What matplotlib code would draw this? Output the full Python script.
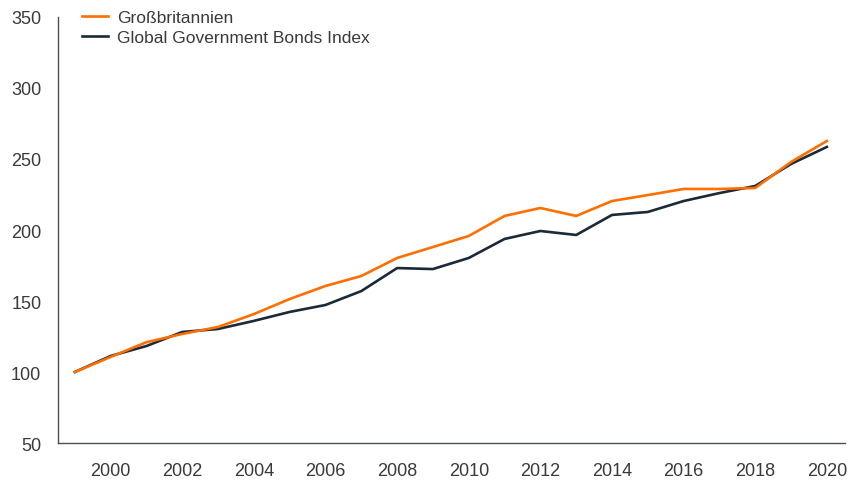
import matplotlib
matplotlib.use('Agg')
import matplotlib.pyplot as plt

# 数据
years = list(range(1999, 2021))
gb = [100, 110.6, 121, 126.8, 131.7, 140.8, 151.4, 160.6, 167.6, 180.3, 188,
      195.8, 209.9, 215.5, 209.9, 220.4, 224.6, 228.9, 228.9, 229.6, 247.9, 262.7]
global_idx = [100, 111.3, 118.3, 128.2, 130.3, 136, 142.3, 147.2, 157, 173.2, 172.5,
              180.3, 193.7, 199.3, 196.5, 210.6, 212.7, 220.4, 226, 231, 246.5, 258.5]
series_names = ['Großbritannien', 'Global Government Bonds Index']
x_ticks = list(range(2000, 2021, 2))
y_ticks = [50, 100, 150, 200, 250, 300, 350]

plt.rcParams['font.family'] = ['Liberation Sans', 'DejaVu Sans']
text_color = '#3a3a3a'

fig = plt.figure(figsize=(8.62, 4.81), dpi=100)
ax = fig.add_axes([0.0673, 0.0769, 0.9127, 0.8857])

ax.plot(years, gb, color='#ff6e00', linewidth=1.9, label=series_names[0], zorder=3)
ax.plot(years, global_idx, color='#1b2a38', linewidth=1.9, label=series_names[1], zorder=2)

ax.set_xlim(1998.53, 2020.5)
ax.set_ylim(50, 350)
ax.set_xticks(x_ticks)
ax.set_yticks(y_ticks)
ax.tick_params(axis='both', length=0, labelsize=13, colors=text_color)
ax.tick_params(axis='x', pad=13.5)
ax.tick_params(axis='y', pad=12)

for s in ['top', 'right']:
    ax.spines[s].set_visible(False)
for s in ['left', 'bottom']:
    ax.spines[s].set_color('#4a4f57')
    ax.spines[s].set_linewidth(1.0)

leg = ax.legend(loc='upper left', bbox_to_anchor=(0.011, 1.054), frameon=False,
                fontsize=12.5, handlelength=1.5, handletextpad=0.5, labelspacing=0.3)
for t in leg.get_texts():
    t.set_color(text_color)

plt.savefig('out.png', dpi=100)
